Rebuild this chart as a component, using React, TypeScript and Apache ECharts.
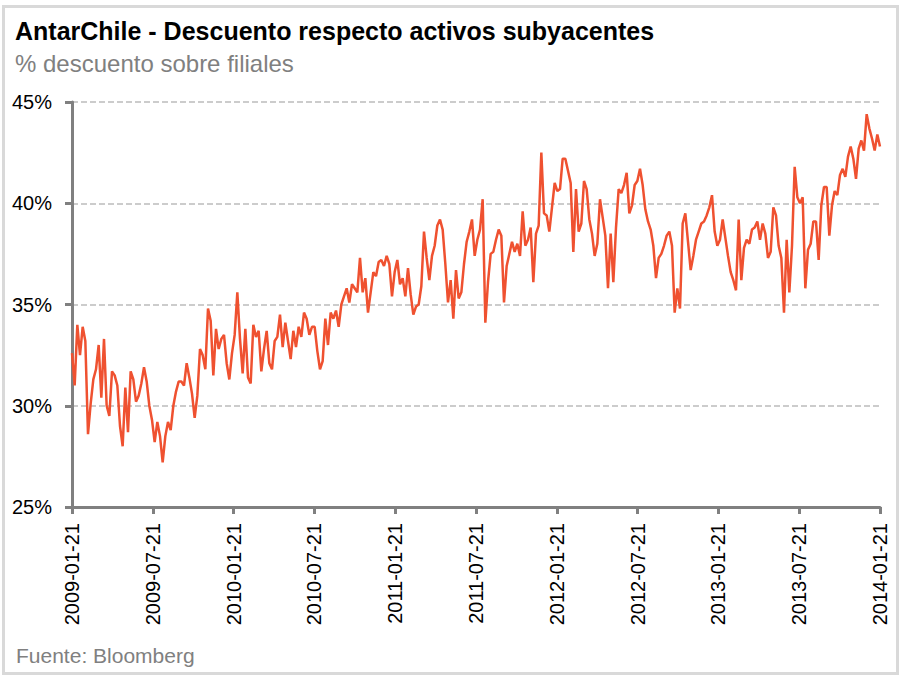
import React, { useEffect, useRef } from "react";
import * as echarts from "echarts";

// Tick labels of the date axis (one every six months)
const tickLabels = [
  "2009-01-21", "2009-07-21", "2010-01-21", "2010-07-21", "2011-01-21", "2011-07-21",
  "2012-01-21", "2012-07-21", "2013-01-21", "2013-07-21", "2014-01-21",
];

// % discount vs. subsidiaries at regular date steps
const discountA = [32.6, 31.0, 34.0, 32.5, 33.9, 33.2, 28.6, 30.1, 31.3, 31.8, 33.0, 30.4, 33.3, 30.0, 29.5, 31.7, 31.5, 31.0, 29.0, 28.0, 30.9, 28.7, 31.7, 31.3, 30.2, 30.5, 31.1, 31.9, 31.2, 30.0, 29.3, 28.2, 29.2, 28.5, 27.2, 28.5, 29.2, 28.8, 30.0, 30.7, 31.2, 31.2, 31.0, 32.1, 31.4, 30.6, 29.4, 30.5, 32.8, 32.5, 31.8, 34.8];
const discountB = [34.2, 31.5, 33.8, 32.8, 33.3, 33.5, 32.1, 31.3, 32.6, 33.5, 35.6, 33.3, 31.6, 33.8, 31.4, 31.1, 34.0, 33.4, 33.7, 31.7, 32.8, 33.7, 32.1, 31.8, 33.2, 33.4, 34.5, 32.9, 34.1, 33.2, 32.3, 33.7, 32.9, 33.9, 33.4, 34.6];
const discountC = [34.3, 33.5, 33.9, 33.9, 32.7, 31.8, 32.2, 34.3, 33.0, 34.6, 34.3, 34.7, 33.9, 35.0, 35.4, 35.8, 35.1, 36.0, 35.8, 35.6, 37.3, 35.6, 36.3, 34.6, 35.6, 36.6, 36.4, 37.1, 37.2, 36.9, 37.4, 37.0, 35.4, 36.6, 37.2, 36.0];
const discountD = [36.3, 35.4, 36.8, 35.5, 34.5, 34.9, 35.0, 35.9, 38.6, 37.3, 36.2, 37.4, 37.9, 38.9, 39.2, 38.7, 37.0, 35.1, 36.2, 34.3, 36.7, 35.3, 35.6, 37.0, 38.1, 38.6, 39.2, 37.4, 38.2, 38.7, 40.2, 34.1, 36.1, 37.5, 37.6];
const discountE = [38.2, 38.7, 38.4, 35.1, 36.9, 37.5, 38.1, 37.6, 38.0, 37.4, 39.6, 37.9, 38.2, 38.8, 36.1, 38.5, 38.9, 42.5, 39.5, 39.4, 38.6, 39.8, 41.0, 40.6, 40.7, 42.2, 42.2, 41.6, 41.0, 37.6, 40.7, 38.6, 39.0, 41.1, 40.7, 39.2];
const discountF = [38.5, 37.4, 38.0, 40.2, 39.3, 38.4, 35.8, 38.5, 36.1, 38.8, 40.7, 40.5, 40.9, 41.5, 39.5, 39.9, 40.9, 41.1, 41.7, 40.9, 39.7, 39.1, 38.7, 37.9, 36.3, 37.3, 37.5, 37.9, 38.4, 38.6, 37.9, 34.6, 35.8, 34.8, 39.0];
const discountG = [39.5, 38.1, 36.7, 37.4, 38.2, 38.6, 39.0, 39.1, 39.4, 39.8, 40.4, 38.6, 37.9, 38.2, 39.2, 38.3, 37.4, 36.6, 36.2, 35.7, 39.2, 36.2, 37.8, 38.2, 38.0, 38.7, 38.8, 39.1, 38.2, 39.0, 38.5, 37.3, 37.6, 39.8, 39.4, 37.9];
const discountH = [37.3, 34.6, 38.2, 35.6, 37.9, 41.8, 40.3, 40.0, 40.3, 35.8, 37.7, 38.0, 39.1, 39.1, 37.2, 39.9, 40.8, 40.8, 38.4, 39.9, 40.6, 40.4, 41.4, 41.7, 41.3, 42.3, 42.8, 42.2, 41.2, 42.7, 43.1, 42.6, 44.4, 43.7, 43.2, 42.6, 43.4, 42.8];

const FONT = "'Liberation Sans', Arial, sans-serif";
const GRAY = "#808080";

export default function App() {
  const ref = useRef<HTMLDivElement>(null);

  useEffect(() => {
    if (!ref.current) return;
    const chart = echarts.init(ref.current, undefined, { renderer: "svg" });
    const all = [
      ...discountA, ...discountB, ...discountC, ...discountD,
      ...discountE, ...discountF, ...discountG, ...discountH,
    ];
    const span = tickLabels.length - 1;
    const data = all.map((v, i) => [(i * span) / (all.length - 1), v]);

    chart.setOption({
      animation: false,
      grid: { left: 72, right: 23, top: 102, bottom: 176, containLabel: false },
      xAxis: {
        type: "value",
        min: 0,
        max: span,
        interval: 1,
        axisLine: { show: true, onZero: false, lineStyle: { color: GRAY, width: 3 } },
        axisTick: { show: true, length: 7, lineStyle: { color: GRAY, width: 3 } },
        axisLabel: {
          rotate: 90,
          margin: 16,
          fontSize: 20,
          fontFamily: FONT,
          color: "#000",
          showMinLabel: true,
          showMaxLabel: true,
          formatter: (v: number) => tickLabels[Math.round(v)] ?? "",
        },
        splitLine: { show: false },
      },
      yAxis: {
        type: "value",
        min: 25,
        max: 45,
        interval: 5,
        axisLine: { show: true, onZero: false, lineStyle: { color: GRAY, width: 3 } },
        axisTick: { show: true, length: 7, lineStyle: { color: GRAY, width: 3 } },
        axisLabel: {
          formatter: "{value}%",
          fontSize: 20,
          margin: 20,
          fontFamily: FONT,
          color: "#000",
        },
        splitLine: { show: true, lineStyle: { type: [6, 3], color: "#cccccc", width: 2 } },
      },
      series: [
        {
          type: "line",
          data,
          showSymbol: false,
          silent: true,
          lineStyle: { color: "#EF5130", width: 2.5 },
          itemStyle: { color: "#EF5130" },
        },
      ],
      graphic: [
        {
          type: "rect",
          shape: { x: 3.5, y: 6.5, width: 894, height: 667 },
          style: { fill: "none", stroke: "#d9d9d9", lineWidth: 3 },
          silent: true,
        },
        {
          type: "text",
          x: 15,
          y: 31,
          style: {
            text: "AntarChile - Descuento respecto activos subyacentes",
            fontSize: 25,
            fontWeight: "bold",
            fontFamily: FONT,
            fill: "#000",
            align: "left",
            verticalAlign: "middle",
          },
        },
        {
          type: "text",
          x: 15,
          y: 63,
          style: {
            text: "% descuento sobre filiales",
            fontSize: 24,
            fontFamily: FONT,
            fill: GRAY,
            align: "left",
            verticalAlign: "middle",
          },
        },
        {
          type: "text",
          x: 16,
          y: 655,
          style: {
            text: "Fuente: Bloomberg",
            fontSize: 21,
            fontFamily: FONT,
            fill: GRAY,
            align: "left",
            verticalAlign: "middle",
          },
        },
      ],
    });
    return () => chart.dispose();
  }, []);

  return (
    <div
      ref={ref}
      style={{ position: "absolute", left: 0, top: 0, width: 903, height: 683 }}
    />
  );
}
